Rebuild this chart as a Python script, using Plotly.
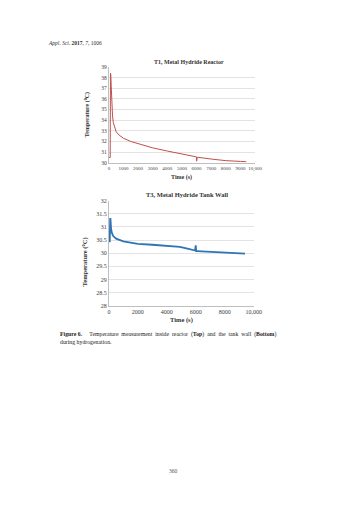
import plotly.graph_objects as go

W, H = 352, 505

# Top chart: T1, Metal Hydride Reactor
t1_time = [0, 90, 110, 130, 160, 200, 250, 300, 400, 500, 700, 1000, 1500, 2000, 3000, 4000, 5000,
           5950, 5990, 6000, 6010, 6050, 7000, 8000, 9000, 9400]
t1_temp = [30.5, 30.5, 38.4, 38.3, 37.2, 35.6, 34.4, 33.8, 33.2, 32.9, 32.6, 32.3, 32.0, 31.8, 31.4, 31.1, 30.8,
           30.55, 30.55, 30.15, 30.5, 30.52, 30.35, 30.2, 30.13, 30.1]

# Bottom chart: T3, Metal Hydride Tank Wall
t3_time = [0, 60, 90, 110, 150, 200, 300, 500, 1000, 2000, 3000, 4000, 4900, 5500, 5900, 5950, 6000, 6030,
           6100, 7000, 8000, 9000, 9400]
t3_temp = [30.45, 30.45, 31.3, 31.3, 30.95, 30.78, 30.65, 30.55, 30.45, 30.35, 30.32, 30.28, 30.24, 30.16, 30.1,
           30.1, 30.3, 30.08, 30.08, 30.06, 30.03, 30.0, 29.98]

top_xticks = [0, 1000, 2000, 3000, 4000, 5000, 6000, 7000, 8000, 9000, 10000]
top_xlabels = ["0", "1000", "2000", "3000", "4000", "5000", "6000", "7000", "8000", "9000", "10,000"]
top_yticks = [30, 31, 32, 33, 34, 35, 36, 37, 38, 39]
bot_xticks = [0, 2000, 4000, 6000, 8000, 10000]
bot_xlabels = ["0", "2000", "4000", "6000", "8000", "10,000"]
bot_yticks = [28, 28.5, 29, 29.5, 30, 30.5, 31, 31.5, 32]

FONT = "Liberation Serif"
TICK_COL = "#404040"
AX_COL = "#bfbfbf"
GRID_COL = "#e3e3e3"


def px(x):
    return x / W


def py(y):
    return 1 - y / H


fig = go.Figure()
fig.add_trace(go.Scatter(x=t1_time, y=t1_temp, mode="lines", line=dict(color="#c0504d", width=1),
                         xaxis="x", yaxis="y", showlegend=False, hoverinfo="skip"))
fig.add_trace(go.Scatter(x=t3_time, y=t3_temp, mode="lines", line=dict(color="#2e75b6", width=1.8),
                         xaxis="x2", yaxis="y2", showlegend=False, hoverinfo="skip"))

common_x = dict(showgrid=False, zeroline=False, showline=True, linecolor=AX_COL, linewidth=1,
                ticks="", fixedrange=True, tickangle=0)
common_y = dict(showgrid=True, gridcolor=GRID_COL, gridwidth=0.6, zeroline=False, showline=True,
                linecolor=AX_COL, linewidth=1, ticks="", fixedrange=True)

fig.update_layout(
    width=W, height=H, margin=dict(l=0, r=0, t=0, b=0),
    paper_bgcolor="white", plot_bgcolor="white",
    xaxis=dict(domain=[px(110), px(260.5)], range=[0, 10000], tickvals=top_xticks, ticktext=top_xlabels,
               anchor="y", tickfont=dict(family=FONT, size=5, color=TICK_COL), **common_x),
    yaxis=dict(domain=[py(161.7), py(64.7)], range=[30, 39], tickvals=top_yticks, anchor="x",
               tickfont=dict(family=FONT, size=5.5, color=TICK_COL), **common_y),
    xaxis2=dict(domain=[px(110), px(259)], range=[0, 10000], tickvals=bot_xticks, ticktext=bot_xlabels,
                anchor="y2", tickfont=dict(family=FONT, size=6, color=TICK_COL), **common_x),
    yaxis2=dict(domain=[py(306.3), py(200)], range=[28, 32], tickvals=bot_yticks, anchor="x2",
                tickfont=dict(family=FONT, size=6, color=TICK_COL), **common_y),
)

ann = []


def text(x, y, s, size=5, bold=False, italic=False, angle=0, xanchor="center", color="#333333"):
    if bold:
        s = "<b>" + s + "</b>"
    if italic:
        s = "<i>" + s + "</i>"
    ann.append(dict(x=px(x), y=py(y), xref="paper", yref="paper", text=s, showarrow=False,
                    textangle=angle, xanchor=xanchor, yanchor="middle",
                    font=dict(family=FONT, size=size, color=color)))


text(45, 40, "<i>Appl. Sci.</i> <b>2017</b>, <i>7</i>, 1006", xanchor="left", size=5.5)

text(192, 59.3, "T1, Metal Hydride Reactor", bold=True, size=6)
text(185, 176.5, "Time (s)", bold=True, size=6)
text(88, 113, "Temperature (<sup>0</sup>C)", bold=True, size=6, angle=-90)

text(190, 194.3, "T3, Metal Hydride Tank Wall", bold=True, size=6.5)
text(185, 321, "Time (s)", bold=True, size=6.5)
text(86, 262, "Temperature (<sup>0</sup>C)", bold=True, size=6.5, angle=-90)

text(58, 335, "<b>Figure 6.</b>     Temperature  measurement  inside  reactor  (<b>Top</b>)  and  the  tank  wall  (<b>Bottom</b>)",
     xanchor="left", size=5.8, color="#222222")
text(58, 343.5, "during hydrogenation.", xanchor="left", size=5.8, color="#222222")

text(176, 474, "360", size=5.5, color="#555555")

fig.update_layout(annotations=ann)
fig.write_html("out.html")
